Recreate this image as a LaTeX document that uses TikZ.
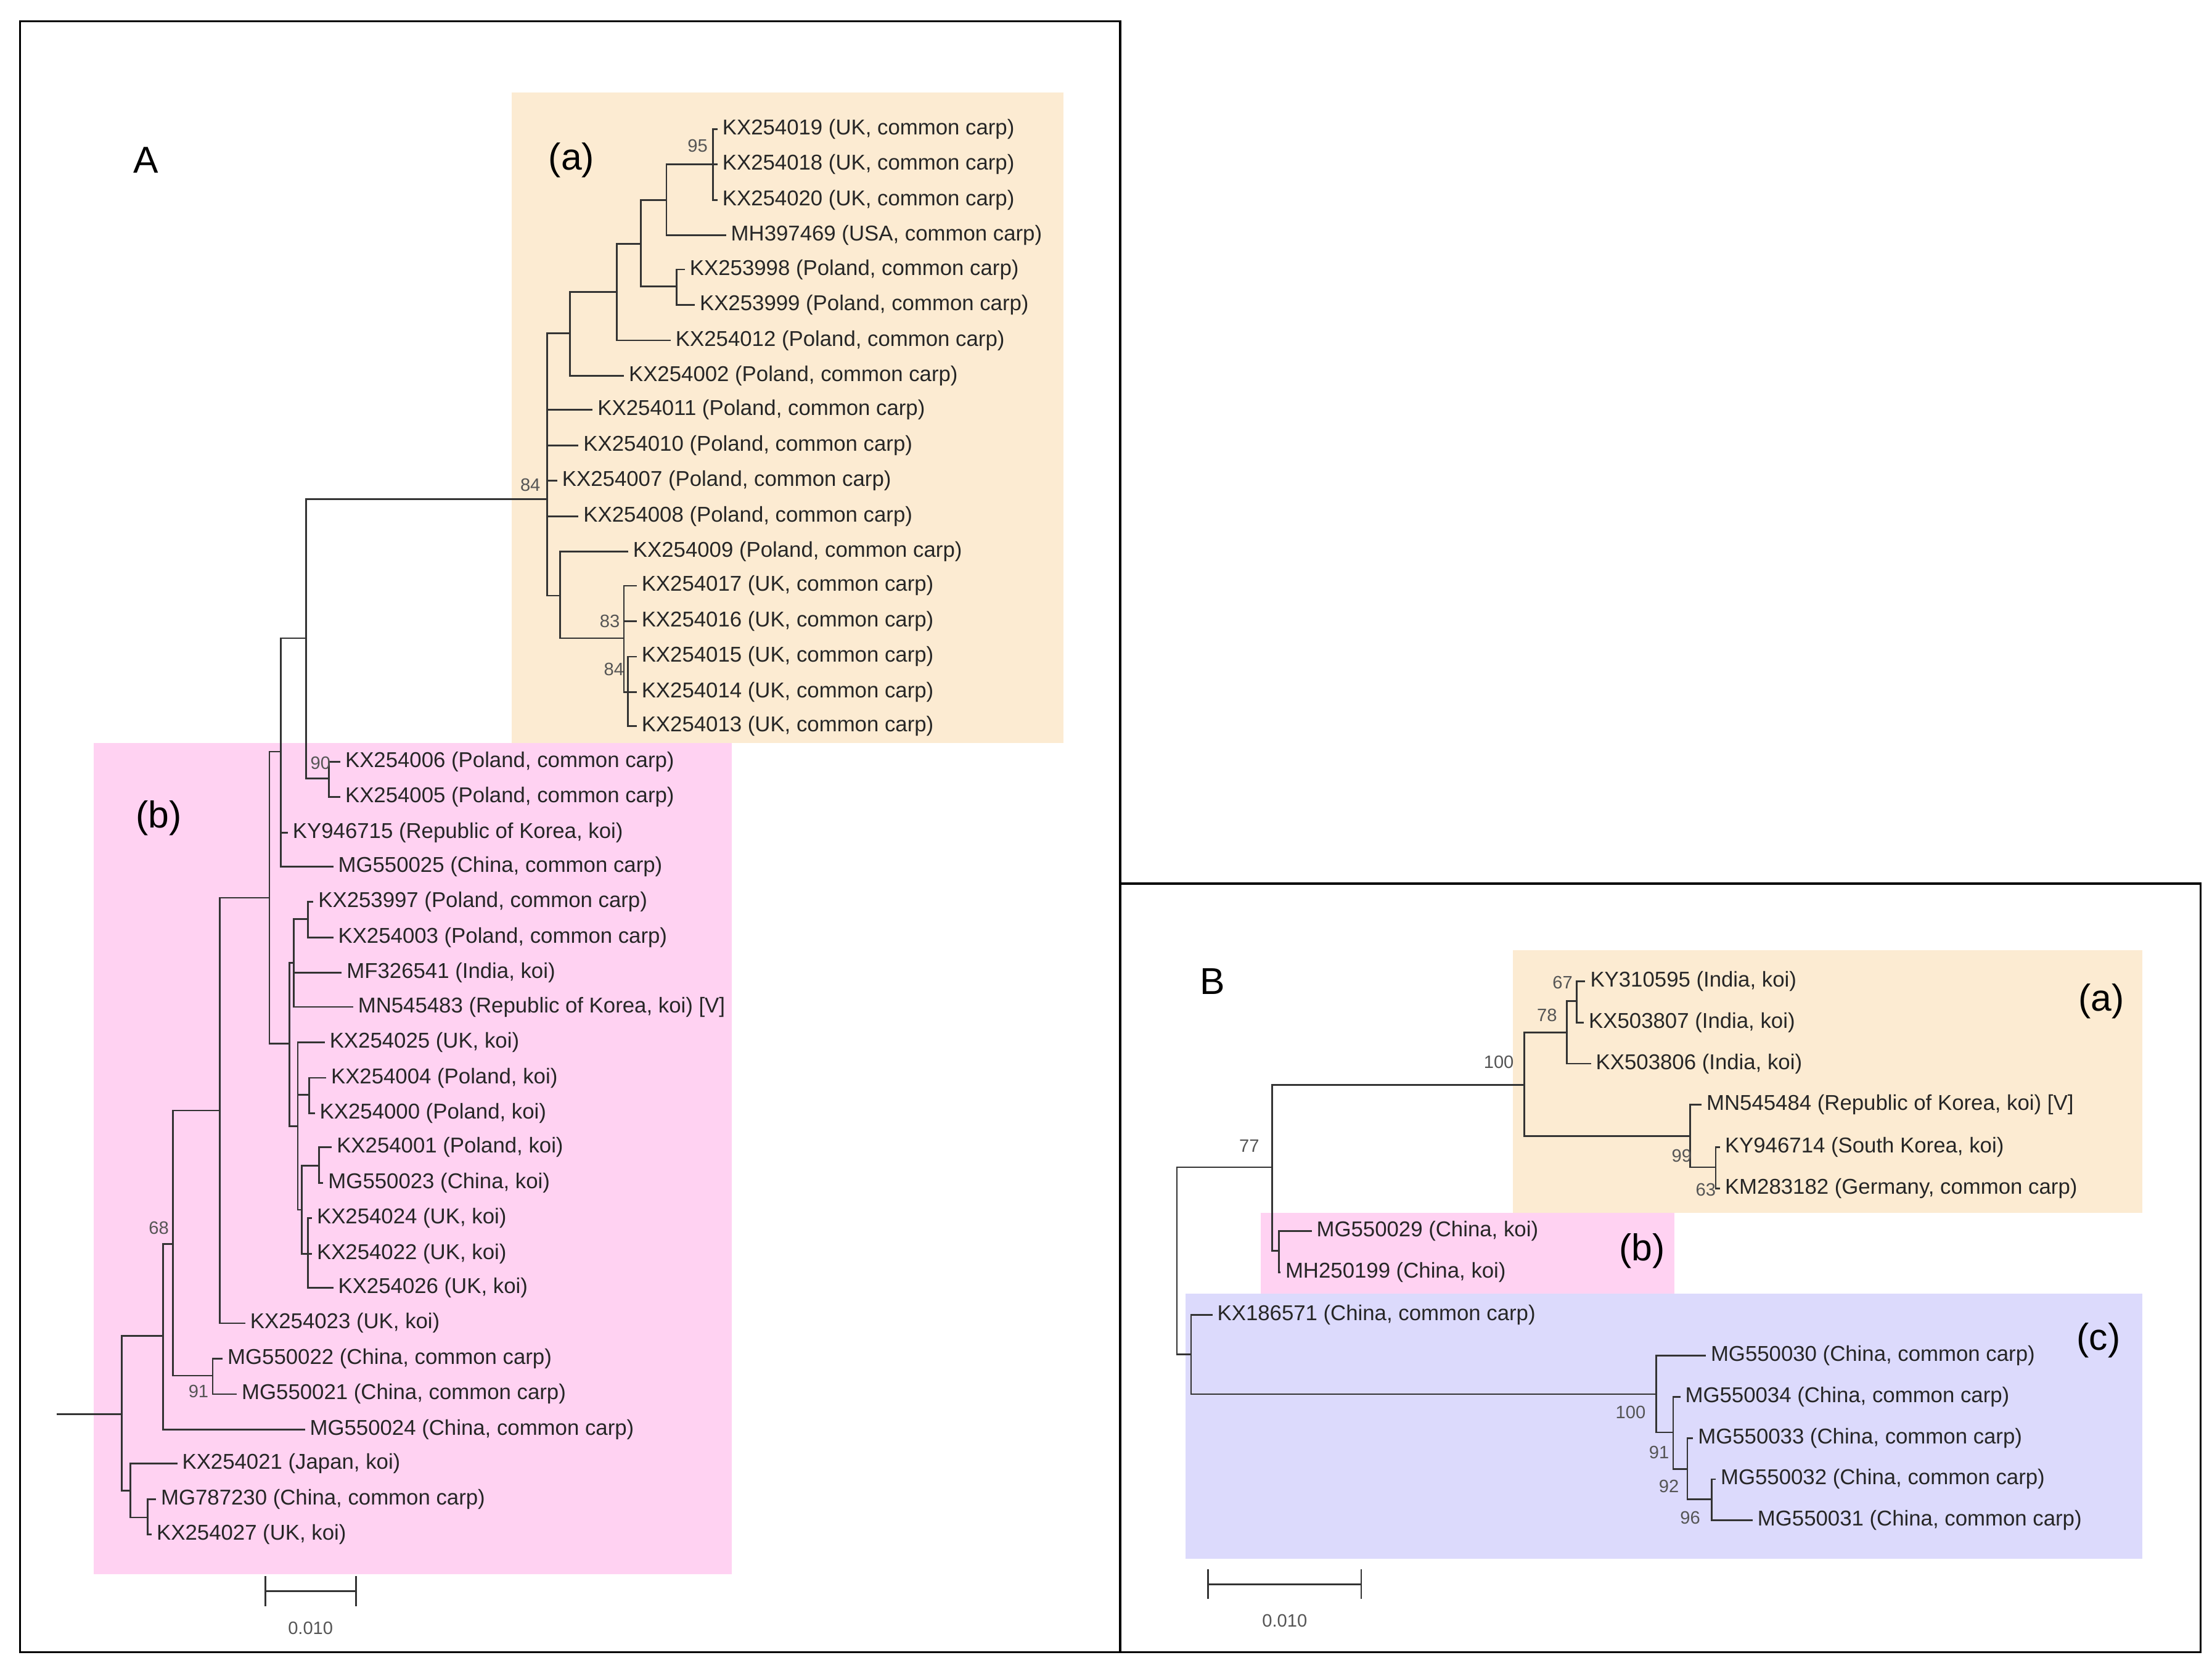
\documentclass[tikz,border=0pt]{standalone}
\usepackage{fontspec}
\setmainfont{Liberation Sans}
\definecolor{cladeA}{HTML}{FCEBD2}
\definecolor{cladeB}{HTML}{FFD2F2}
\definecolor{cladeC}{HTML}{DCDAFC}
\definecolor{boot}{HTML}{555555}
\begin{document}
\begin{tikzpicture}[x=0.01cm,y=-0.01cm,
    leaf/.style={anchor=west, inner sep=0.8pt, font=\fontsize{4.3}{5}\selectfont, text=black!85},
    support/.style={inner sep=0pt, font=\fontsize{3.6}{4}\selectfont, text=boot},
    panel/.style={inner sep=0pt, font=\fontsize{7.5}{8}\selectfont},
    branch/.style={line width=0.35pt, black!80}
]
\useasboundingbox (0,0) rectangle (1560,1178);

% Backgrounds
\fill[cladeA] (361,65) rectangle (750,524);
\fill[cladeB] (66,524) rectangle (516,1110);
\fill[cladeA] (1067,670) rectangle (1511,855);
\fill[cladeB] (889,855) rectangle (1181,912);
\fill[cladeC] (836,912) rectangle (1511,1099);

% Frames
\draw[line width=0.4pt] (14,15) rectangle (790,1165);
\draw[line width=0.4pt] (790,623) rectangle (1552,1165);

% Panel labels
\node[panel] (labA) at (103,113) {A};
\node[panel] (labAa) at (403,113) {(a)};
\node[panel] (labAb) at (112,577) {(b)};
\node[panel] (labB) at (855,692) {B};
\node[panel] (labBa) at (1482,706) {(a)};
\node[panel] (labBb) at (1158,882) {(b)};
\node[panel] (labBc) at (1480,945) {(c)};

% Tree A: leaves
\node[leaf] (l1) at (506,91) {KX254019 (UK, common carp)};
\node[leaf] (l2) at (506,116) {KX254018 (UK, common carp)};
\node[leaf] (l3) at (506,141) {KX254020 (UK, common carp)};
\node[leaf] (l4) at (512,166) {MH397469 (USA, common carp)};
\node[leaf] (l5) at (483,190) {KX253998 (Poland, common carp)};
\node[leaf] (l6) at (490,215) {KX253999 (Poland, common carp)};
\node[leaf] (l7) at (473,240) {KX254012 (Poland, common carp)};
\node[leaf] (l8) at (440,265) {KX254002 (Poland, common carp)};
\node[leaf] (l9) at (418,289) {KX254011 (Poland, common carp)};
\node[leaf] (l10) at (408,314) {KX254010 (Poland, common carp)};
\node[leaf] (l11) at (393,339) {KX254007 (Poland, common carp)};
\node[leaf] (l12) at (408,364) {KX254008 (Poland, common carp)};
\node[leaf] (l13) at (443,389) {KX254009 (Poland, common carp)};
\node[leaf] (l14) at (449,413) {KX254017 (UK, common carp)};
\node[leaf] (l15) at (449,438) {KX254016 (UK, common carp)};
\node[leaf] (l16) at (449,463) {KX254015 (UK, common carp)};
\node[leaf] (l17) at (449,488) {KX254014 (UK, common carp)};
\node[leaf] (l18) at (449,512) {KX254013 (UK, common carp)};
\node[leaf] (l19) at (240,537) {KX254006 (Poland, common carp)};
\node[leaf] (l20) at (240,562) {KX254005 (Poland, common carp)};
\node[leaf] (l21) at (203,587) {KY946715 (Republic of Korea, koi)};
\node[leaf] (l22) at (235,611) {MG550025 (China, common carp)};
\node[leaf] (l23) at (221,636) {KX253997 (Poland, common carp)};
\node[leaf] (l24) at (235,661) {KX254003 (Poland, common carp)};
\node[leaf] (l25) at (241,686) {MF326541 (India, koi)};
\node[leaf] (l26) at (249,710) {MN545483 (Republic of Korea, koi) [V]};
\node[leaf] (l27) at (229,735) {KX254025 (UK, koi)};
\node[leaf] (l28) at (230,760) {KX254004 (Poland, koi)};
\node[leaf] (l29) at (222,785) {KX254000 (Poland, koi)};
\node[leaf] (l30) at (234,809) {KX254001 (Poland, koi)};
\node[leaf] (l31) at (228,834) {MG550023 (China, koi)};
\node[leaf] (l32) at (220,859) {KX254024 (UK, koi)};
\node[leaf] (l33) at (220,884) {KX254022 (UK, koi)};
\node[leaf] (l34) at (235,908) {KX254026 (UK, koi)};
\node[leaf] (l35) at (173,933) {KX254023 (UK, koi)};
\node[leaf] (l36) at (157,958) {MG550022 (China, common carp)};
\node[leaf] (l37) at (167,983) {MG550021 (China, common carp)};
\node[leaf] (l38) at (215,1008) {MG550024 (China, common carp)};
\node[leaf] (l39) at (125,1032) {KX254021 (Japan, koi)};
\node[leaf] (l40) at (110,1057) {MG787230 (China, common carp)};
\node[leaf] (l41) at (107,1082) {KX254027 (UK, koi)};

% Tree A: internal nodes
\coordinate (a6) at (503,116);
\coordinate (a4) at (470,141);
\coordinate (a5) at (477,202);
\coordinate (a3) at (452,172);
\coordinate (a2) at (435,206);
\coordinate (a1) at (402,235);
\coordinate (a11) at (443,488);
\coordinate (a10) at (440,450);
\coordinate (a9) at (395,420);
\coordinate (a0) at (386,352);
\coordinate (p1) at (232,549);
\coordinate (r9) at (216,450);
\coordinate (r8) at (198,530);
\coordinate (p2) at (217,648);
\coordinate (r11) at (207,679);
\coordinate (p4) at (218,772);
\coordinate (p6) at (225,822);
\coordinate (p7) at (217,884);
\coordinate (p5) at (213,853);
\coordinate (r12) at (210,794);
\coordinate (r10) at (204,736);
\coordinate (r7) at (190,633);
\coordinate (r5) at (155,783);
\coordinate (r6) at (150,970);
\coordinate (r4) at (122,877);
\coordinate (r1) at (115,942);
\coordinate (r3) at (104,1070);
\coordinate (r2) at (92,1051);
\coordinate (R) at (86,997);
\coordinate (R0) at (40,997);

\foreach \p/\c in {a6/l1,a6/l2,a6/l3,a4/a6,a4/l4,a5/l5,a5/l6,a3/a4,a3/a5,
    a2/a3,a2/l7,a1/a2,a1/l8,a11/l16,a11/l17,a11/l18,a10/l14,a10/l15,a10/a11,
    a9/l13,a9/a10,a0/a1,a0/l9,a0/l10,a0/l11,a0/l12,a0/a9,
    p1/l19,p1/l20,r9/a0,r9/p1,r8/r9,r8/l21,r8/l22,
    p2/l23,p2/l24,r11/p2,r11/l25,r11/l26,p4/l28,p4/l29,p6/l30,p6/l31,
    p7/l32,p7/l33,p7/l34,p5/p6,p5/p7,r12/l27,r12/p4,r12/p5,r10/r11,r10/r12,
    r7/r8,r7/r10,r5/r7,r5/l35,r6/l36,r6/l37,r4/r5,r4/r6,r1/r4,r1/l38,
    r3/l40,r3/l41,r2/l39,r2/r3,R/r1,R/r2}
    \draw[branch] (\p) |- (\c);
\draw[branch] (R0) -- (R);

% Tree A: support values
\node[support] (s95) at (492,103) {95};
\node[support] (s84a) at (374,342) {84};
\node[support] (s83) at (430,438) {83};
\node[support] (s84b) at (433,472) {84};
\node[support] (s90) at (226,538) {90};
\node[support] (s68) at (112,866) {68};
\node[support] (s91a) at (140,981) {91};

% Tree A: scale
\coordinate (sa1) at (187,1122);
\coordinate (sa2) at (251,1122);
\draw[branch] (sa1) -- (sa2);
\draw[branch] ([yshift=-3]sa1) -- ([yshift=3]sa1);
\draw[branch] ([yshift=-3]sa2) -- ([yshift=3]sa2);
\node[support] (scA) at (219,1148) {0.010};

% Tree B: leaves
\node[leaf] (m1) at (1118,692) {KY310595 (India, koi)};
\node[leaf] (m2) at (1117,721) {KX503807 (India, koi)};
\node[leaf] (m3) at (1122,750) {KX503806 (India, koi)};
\node[leaf] (m4) at (1200,779) {MN545484 (Republic of Korea, koi) [V]};
\node[leaf] (m5) at (1213,809) {KY946714 (South Korea, koi)};
\node[leaf] (m6) at (1213,838) {KM283182 (Germany, common carp)};
\node[leaf] (m7) at (925,868) {MG550029 (China, koi)};
\node[leaf] (m8) at (903,897) {MH250199 (China, koi)};
\node[leaf] (m9) at (855,927) {KX186571 (China, common carp)};
\node[leaf] (m10) at (1203,956) {MG550030 (China, common carp)};
\node[leaf] (m11) at (1185,985) {MG550034 (China, common carp)};
\node[leaf] (m12) at (1194,1014) {MG550033 (China, common carp)};
\node[leaf] (m13) at (1210,1043) {MG550032 (China, common carp)};
\node[leaf] (m14) at (1236,1072) {MG550031 (China, common carp)};

% Tree B: internal nodes
\coordinate (b7) at (1112,706);
\coordinate (b5) at (1105,728);
\coordinate (b8) at (1210,823);
\coordinate (b6) at (1192,801);
\coordinate (b3) at (1075,765);
\coordinate (b4) at (902,882);
\coordinate (b1) at (897,823);
\coordinate (b12) at (1207,1057);
\coordinate (b11) at (1190,1036);
\coordinate (b10) at (1180,1010);
\coordinate (b9) at (1168,983);
\coordinate (b2) at (840,955);
\coordinate (Rb) at (830,889);

\foreach \p/\c in {b7/m1,b7/m2,b5/b7,b5/m3,b8/m5,b8/m6,b6/m4,b6/b8,b3/b5,b3/b6,
    b4/m7,b4/m8,b1/b3,b1/b4,b12/m13,b12/m14,b11/m12,b11/b12,b10/m11,b10/b11,
    b9/m10,b9/b10,b2/m9,b2/b9,Rb/b1,Rb/b2}
    \draw[branch] (\p) |- (\c);

% Tree B: support values
\node[support] (t67) at (1102,693) {67};
\node[support] (t78) at (1091,716) {78};
\node[support] (t100a) at (1057,749) {100};
\node[support] (t99) at (1186,815) {99};
\node[support] (t63) at (1203,839) {63};
\node[support] (t77) at (881,808) {77};
\node[support] (t100b) at (1150,996) {100};
\node[support] (t91) at (1170,1024) {91};
\node[support] (t92) at (1177,1048) {92};
\node[support] (t96) at (1192,1070) {96};

% Tree B: scale
\coordinate (sb1) at (852,1117);
\coordinate (sb2) at (960,1117);
\draw[branch] (sb1) -- (sb2);
\draw[branch] ([yshift=-3]sb1) -- ([yshift=3]sb1);
\draw[branch] ([yshift=-3]sb2) -- ([yshift=3]sb2);
\node[support] (scB) at (906,1143) {0.010};
\end{tikzpicture}
\end{document}
